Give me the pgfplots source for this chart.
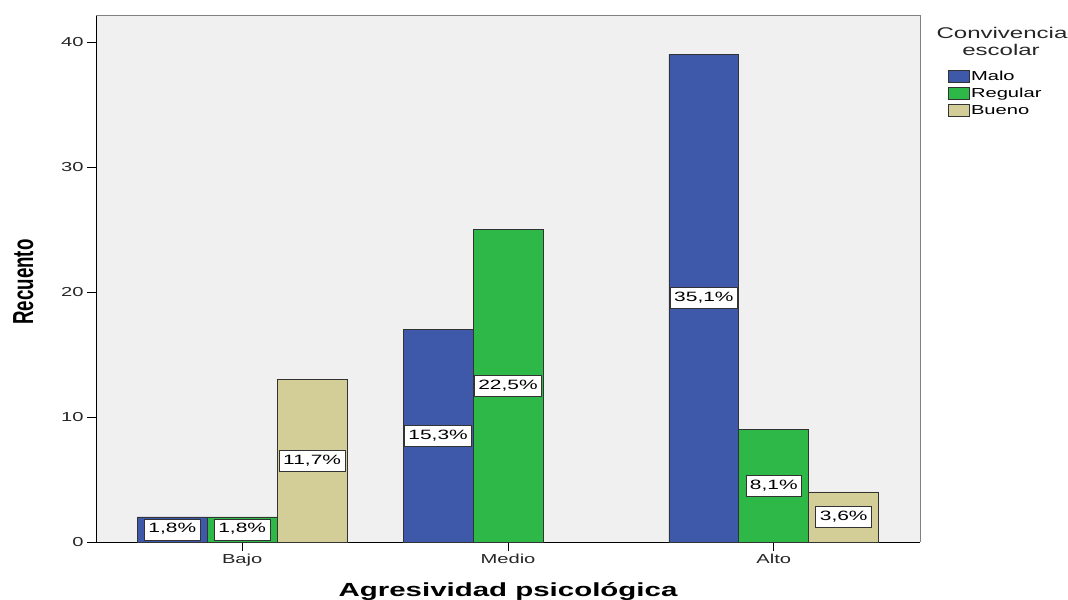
\documentclass[border=0pt]{standalone}
\usepackage{pgfplots}
\pgfplotsset{compat=1.18}
\usepackage{fontspec}
% SPSS export was stretched sideways, so the text is too
\setmainfont{Liberation Sans}[FakeStretch=1.55]
\newfontfamily\plainsans{Liberation Sans}

\definecolor{malo}{RGB}{62,88,170}
\definecolor{regular}{RGB}{46,184,72}
\definecolor{bueno}{RGB}{211,206,152}
\definecolor{panel}{RGB}{240,240,240}

\begin{document}
\begin{tikzpicture}
\path[use as bounding box] (0,0) rectangle (1068bp,600bp);

\begin{axis}[
  at={(96bp,58bp)}, anchor=south west,
  scale only axis,
  width=824bp, height=527bp,
  xmin=-0.55, xmax=2.55,
  ymin=0, ymax=42.16,
  axis lines*=left,
  axis line style={black, line width=0.9bp},
  axis background/.style={fill=panel},
  tick align=outside,
  major tick length=9bp,
  xtick={0,1,2},
  xticklabels={Bajo,Medio,Alto},
  ytick={0,10,20,30,40},
  tick style={black, line width=0.8bp},
  tick label style={font=\fontsize{13bp}{15bp}\selectfont, text=black!85},
  /pgf/number format/assume math mode=true,
  legend style={at={(rel axis cs:1.034,0.900)}, anchor=north west,
    draw=none, fill=none, inner sep=0pt,
    font=\fontsize{13bp}{15bp}\selectfont,
    nodes={inner xsep=1bp, inner ysep=2.5bp, text height=10bp, text depth=2bp}},
  legend cell align=left,
  legend image code/.code={\draw[#1, draw=black!80, line width=0.8bp] (0bp,-6bp) rectangle (21bp,6bp);},
  clip=false,
]

% bars: Malo left, Regular centred, Bueno right
\addplot[ybar, bar width=0.263, bar shift=-0.263, fill=malo, draw=black!80, line width=0.9bp]
  coordinates {(0,2) (1,17) (2,39)};
\addlegendentry{Malo}
\addplot[ybar, bar width=0.263, bar shift=0, fill=regular, draw=black!80, line width=0.9bp]
  coordinates {(0,2) (1,25) (2,9)};
\addlegendentry{Regular}
\addplot[ybar, bar width=0.263, bar shift=0.263, fill=bueno, draw=black!80, line width=0.9bp]
  coordinates {(0,13) (2,4)};
\addlegendentry{Bueno}

% percentage boxes at half bar height
\addplot[sharp plot, draw=none, mark=none, forget plot,
  nodes near coords, point meta=explicit symbolic,
  every node near coord/.style={anchor=center, fill=white, draw=black!80, line width=0.8bp,
    font=\fontsize{13.5bp}{15bp}\selectfont, inner xsep=4bp, inner ysep=4bp,
    text height=10bp, text depth=3bp}]
  coordinates {
    (-0.263,1) [1,8\%]
    (0,1) [1,8\%]
    (0.263,6.5) [11,7\%]
    (0.737,8.5) [15,3\%]
    (1,12.5) [22,5\%]
    (1.737,19.5) [35,1\%]
    (2,4.5) [8,1\%]
    (2.263,2) [3,6\%]
  };

% grey top and right frame
\draw[gray, line width=0.9bp] (rel axis cs:0,1) -- (rel axis cs:1,1) -- (rel axis cs:1,0);
\end{axis}

% titles
\node[anchor=base, font=\fontsize{19bp}{22bp}\selectfont\bfseries] at (508bp,4bp) {Agresividad psicológica};
\node[anchor=base, rotate=90, font=\plainsans\fontsize{18.7bp}{22bp}\selectfont\bfseries]
  at (33bp,318bp) {\scalebox{1}[1.55]{Recuento}};
\node[anchor=base, font=\fontsize{15.5bp}{18bp}\selectfont, text=black!85] at (1002bp,561.5bp) {Convivencia};
\node[anchor=base, font=\fontsize{15.5bp}{18bp}\selectfont, text=black!85] at (1001bp,544.5bp) {escolar};
\end{tikzpicture}
\end{document}
